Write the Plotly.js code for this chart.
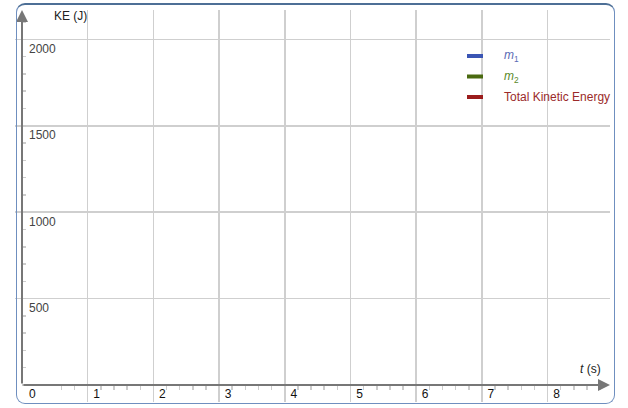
<!DOCTYPE html>
<html>
<head>
<meta charset="utf-8">
<script src="https://cdn.plot.ly/plotly-3.0.1.min.js"></script>
<style>
  html, body { margin: 0; padding: 0; background: #fff; }
  #wrap { position: relative; width: 628px; height: 408px; }
  #chart { width: 628px; height: 408px; }
  #frame {
    position: absolute; left: 16px; top: 3px; width: 599px; height: 401px;
    box-sizing: border-box; border: 1px solid #6f8fbf; border-top: 2px solid #4d6f96;
    border-radius: 9px; pointer-events: none;
  }
</style>
</head>
<body>
<div id="wrap">
  <div id="chart"></div>
  <div id="frame"></div>
</div>
<script>
// Data (chart is empty: no values plotted yet)
const t = [];
const keM1 = [];
const keM2 = [];
const keTotal = [];
const seriesNames = ['<i>m</i><sub>1</sub>', '<i>m</i><sub>2</sub>', 'Total Kinetic Energy'];
const lineColors = ['#3a55b4', '#4a6a10', '#9b1c1c'];
const textColors = ['#5a6ab4', '#5a8a2a', '#9b2a2a'];
const xTicks = [0, 1, 2, 3, 4, 5, 6, 7, 8];
const yTicks = [500, 1000, 1500, 2000];

const W = 628, H = 408, L = 22, R = 18, T = 10, B = 23;
const pw = W - L - R, ph = H - T - B;
const px = p => (p - L) / pw;
const py = p => (H - B - p) / ph;

const traces = [keM1, keM2, keTotal].map((ys, i) => ({
  x: t, y: ys, type: 'scatter', mode: 'lines', name: seriesNames[i],
  line: { color: lineColors[i], width: 3 }, showlegend: false
}));

const shapes = [];
const annotations = [];
seriesNames.forEach((nm, i) => {
  const yy = 56 + 20.5 * i;
  shapes.push({ type: 'line', xref: 'paper', yref: 'paper', x0: px(467), x1: px(483),
    y0: py(yy), y1: py(yy), line: { color: lineColors[i], width: 4 } });
  annotations.push({ xref: 'paper', yref: 'paper', x: px(502), y: py(yy), xanchor: 'left',
    yanchor: 'middle', text: nm, showarrow: false, font: { size: 12, color: textColors[i] } });
});
// axis arrows
annotations.push({ x: 8.95, y: 0, ax: 0, ay: 0, axref: 'x', ayref: 'y', xref: 'x', yref: 'y',
  showarrow: true, arrowhead: 2, arrowsize: 1.2, arrowwidth: 2, arrowcolor: '#777', text: '' });
annotations.push({ x: 0, y: 2170, ax: 0, ay: 0, axref: 'x', ayref: 'y', xref: 'x', yref: 'y',
  showarrow: true, arrowhead: 2, arrowsize: 1.2, arrowwidth: 2, arrowcolor: '#777', text: '' });
// origin tick label (Plotly hides it where the axes cross)
annotations.push({ x: xTicks[0], y: 0, xref: 'x', yref: 'y', xanchor: 'left', yanchor: 'middle',
  xshift: 5, yshift: -9, text: String(xTicks[0]), showarrow: false, font: { size: 12, color: '#111' } });
// axis titles
annotations.push({ xref: 'paper', yref: 'paper', x: px(52), y: py(16), xanchor: 'left', yanchor: 'middle',
  text: 'KE (J)', showarrow: false, font: { size: 12, color: '#222' } });
annotations.push({ xref: 'paper', yref: 'paper', x: px(578), y: py(369), xanchor: 'left', yanchor: 'middle',
  text: '<i>t</i> (s)', showarrow: false, font: { size: 12, color: '#222' } });

const layout = {
  width: W, height: H,
  margin: { l: L, r: R, t: T, b: B, pad: 0 },
  paper_bgcolor: '#fff', plot_bgcolor: '#fff',
  font: { family: 'Liberation Sans, Arial, sans-serif', size: 12, color: '#111' },
  showlegend: false,
  xaxis: {
    range: [0, 8.95], tickvals: xTicks, ticktext: xTicks.map(String),
    showgrid: true, gridcolor: '#cfcfcf', gridwidth: 1.5, zeroline: false, showline: false,
    ticks: 'outside', ticklen: 16, tickcolor: '#cfcfcf', tickwidth: 1.5,
    ticklabelstandoff: -18, ticklabelshift: 9,
    minor: { dtick: 0.2, tick0: 0, ticks: 'outside', ticklen: 4, tickcolor: '#cccccc', showgrid: false },
    fixedrange: true
  },
  yaxis: {
    range: [0, 2170], tickvals: yTicks, ticktext: yTicks.map(String),
    showgrid: true, gridcolor: '#cfcfcf', gridwidth: 1.5, zeroline: false, showline: false,
    ticks: 'outside', ticklen: 6, tickcolor: '#cfcfcf', tickwidth: 1.5,
    ticklabelposition: 'inside bottom', ticklabelstandoff: 4,
    minor: { dtick: 100, tick0: 0, ticks: 'inside', ticklen: 4, tickcolor: '#cccccc', showgrid: false },
    fixedrange: true
  },
  shapes: shapes,
  annotations: annotations
};

Plotly.newPlot('chart', traces, layout, { displayModeBar: false, staticPlot: true });
</script>
</body>
</html>
